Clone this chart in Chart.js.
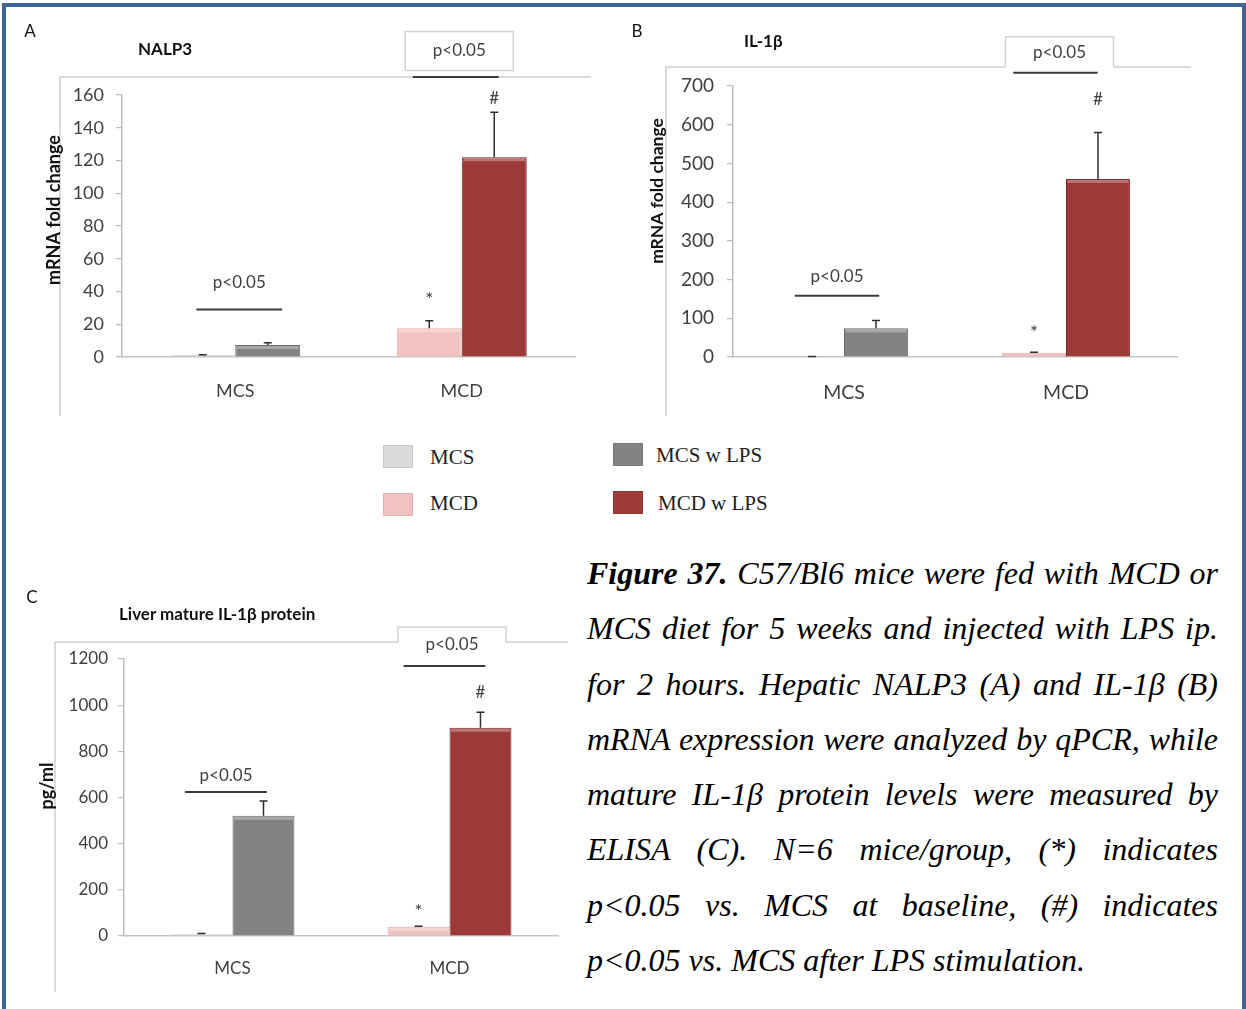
<!DOCTYPE html>
<html>
<head>
<meta charset="utf-8">
<script src="https://cdn.jsdelivr.net/npm/chart.js@4.4.1/dist/chart.umd.min.js"></script>
<style>
  html, body { margin: 0; padding: 0; background: #fff; }
  body { width: 1246px; height: 1009px; position: relative; overflow: hidden; }
  canvas, .txt, .frame, .sw { position: absolute; }
  .frame { border-top: 2px solid #dadada; border-left: 2px solid #dadada; box-sizing: border-box; }
  .txt { line-height: 1; white-space: nowrap; transform: translateY(-50%); }
  .letter { font: 17px Lato, sans-serif; color: #111; transform: translate(-50%, -50%); }
  .ptitle { font: bold 17px Lato, sans-serif; color: #111; }
  .leg { font: 21px "Liberation Serif", "Times New Roman", serif; color: #222; }
  .sw { width: 30px; height: 23px; box-sizing: border-box; border: 1px solid rgba(0,0,0,0.08); }
  #caption { position: absolute; left: 587px; top: 546px; width: 631px;
             font: italic 32px "Liberation Serif", "Times New Roman", serif; color: #000; }
  #caption div { height: 55.3px; line-height: 55.3px; text-align: justify; text-align-last: justify; }
  #caption div.last { text-align-last: left; }
  #border { position: absolute; left: 2px; top: 3px; width: 1244px; height: 1100px;
            border: 4px solid #3d6598; border-bottom: none; box-sizing: border-box; }
</style>
</head>
<body>

<div class="frame" style="left:59px;top:76px;width:532px;height:340px"></div>
<div class="frame" style="left:665px;top:66px;width:526px;height:350px"></div>
<div class="frame" style="left:54px;top:641px;width:514px;height:351px"></div>

<canvas id="chartA" width="620" height="420" style="left:0;top:0"></canvas>
<canvas id="chartB" width="626" height="420" style="left:620px;top:0"></canvas>
<canvas id="chartC" width="580" height="429" style="left:0;top:580px"></canvas>

<div class="txt letter" style="left:30px;top:30px">A</div>
<div class="txt ptitle" style="left:138px;top:48px">NALP3</div>
<div class="txt letter" style="left:637px;top:30px">B</div>
<div class="txt ptitle" style="left:744px;top:40px">IL-1β</div>
<div class="txt letter" style="left:32px;top:596px">C</div>
<div class="txt ptitle" style="left:119px;top:613px">Liver mature IL-1β protein</div>

<div id="legend"></div>

<div id="caption">
  <div><b>Figure 37.</b> C57/Bl6 mice were fed with MCD or</div>
  <div>MCS diet for 5 weeks and injected with LPS ip.</div>
  <div>for 2 hours. Hepatic NALP3 (A) and IL-1β (B)</div>
  <div>mRNA expression were analyzed by qPCR, while</div>
  <div>mature IL-1β protein levels were measured by</div>
  <div>ELISA (C). N=6 mice/group, (*) indicates</div>
  <div>p&lt;0.05 vs. MCS at baseline, (#) indicates</div>
  <div class="last">p&lt;0.05 vs. MCS after LPS stimulation.</div>
</div>

<div id="border"></div>

<script>
// ---- data ---------------------------------------------------------------
const categories = ['MCS', 'MCD'];
const seriesNames = ['MCS', 'MCS w LPS', 'MCD', 'MCD w LPS'];

// A: hepatic NALP3 mRNA, fold change (mean, SEM)
const nalp3Base = [1, 17.5];
const nalp3BaseErr = [0.4, 4.7];
const nalp3Lps = [7.3, 122];
const nalp3LpsErr = [1.4, 27.5];
const nalp3Ticks = [0, 20, 40, 60, 80, 100, 120, 140, 160];
const nalp3Brackets = [29, 171];      // height of the p<0.05 bars, per diet
const nalp3Marks = [36.6, 157.6];     // height of "*" (MCD) and "#" (MCD w LPS)

// B: hepatic IL-1β mRNA, fold change
const il1bBase = [1, 11];
const il1bBaseErr = [0.3, 1.5];
const il1bLps = [74, 460];
const il1bLpsErr = [20, 120];
const il1bTicks = [0, 100, 200, 300, 400, 500, 600, 700];
const il1bBrackets = [158, 734];
const il1bMarks = [70, 664];

// C: liver mature IL-1β protein, pg/ml
const protBase = [8, 40];
const protBaseErr = [3, 2];
const protLps = [521, 902];
const protLpsErr = [64, 67];
const protTicks = [0, 200, 400, 600, 800, 1000, 1200];
const protBrackets = [624, 1170];
const protMarks = [117, 1053];

// ---- colours ------------------------------------------------------------
const seriesFill = ['#d9d9d9', '#838383', '#f1c2c1', '#9c3a38'];
const seriesEdge = ['#c4c4c4', '#6a6a6a', '#e4abaa', '#7a2b29'];

// legend (HTML, between the panels)
const legendSpots = [[383, 445, 430, 457], [613, 443, 656, 455], [383, 493, 430, 503], [613, 491, 658, 503]];
const legendEl = document.getElementById('legend');
seriesNames.forEach((name, i) => {
  const [bx, by, tx, ty] = legendSpots[i];
  const sw = document.createElement('div');
  sw.className = 'sw';
  sw.style.cssText = `left:${bx}px;top:${by}px;background:${seriesFill[i]}`;
  legendEl.appendChild(sw);
  const t = document.createElement('div');
  t.className = 'txt leg';
  t.style.cssText = `left:${tx}px;top:${ty}px`;
  t.textContent = name;
  legendEl.appendChild(t);
});

// ---- plugins ------------------------------------------------------------
// Excel-like bevel highlight along the top of each bar
const barShading = {
  id: 'barShading',
  afterDatasetsDraw(chart) {
    const ctx = chart.ctx;
    chart.data.datasets.forEach((ds, i) => {
      chart.getDatasetMeta(i).data.forEach(bar => {
        const h = bar.base - bar.y;
        if (h < 4) return;
        const l = bar.x - bar.width / 2;
        ctx.save();
        ctx.fillStyle = 'rgba(255,255,255,0.30)';
        ctx.fillRect(l + 1.5, bar.y + 1, bar.width - 3, 3);
        ctx.restore();
      });
    });
  }
};

// one-sided (upper) error bars
const errorBars = {
  id: 'errorBars',
  afterDatasetsDraw(chart) {
    const ctx = chart.ctx, ys = chart.scales.y;
    chart.data.datasets.forEach((ds, i) => {
      chart.getDatasetMeta(i).data.forEach((bar, j) => {
        const v = ds.data[j], e = ds.errors[j];
        const y0 = ys.getPixelForValue(v), y1 = ys.getPixelForValue(v + e);
        ctx.save();
        ctx.strokeStyle = '#2e2e2e';
        ctx.lineWidth = 1.5;
        ctx.beginPath();
        ctx.moveTo(bar.x, y0); ctx.lineTo(bar.x, y1);
        ctx.moveTo(bar.x - 4, y1); ctx.lineTo(bar.x + 4, y1);
        ctx.stroke();
        ctx.restore();
      });
    });
  }
};

// p<0.05 brackets, the boxed label above the MCD pair, and the * / # marks
const significance = {
  id: 'significance',
  afterDraw(chart, args, o) {
    const ctx = chart.ctx, ys = chart.scales.y, xs = chart.scales.x;
    const barW = chart.getDatasetMeta(1).data[0].width;
    const half = 0.66 * barW;
    ctx.save();
    o.brackets.forEach((v, j) => {
      const cx = xs.getPixelForValue(j) + o.dx[j];
      const by = ys.getPixelForValue(v);
      if (j === 1) {
        const b = o.box;
        const bl = cx + b.dx - 54, br = cx + b.dx + 54;
        ctx.fillStyle = '#ffffff';
        ctx.fillRect(bl, by + b.top, br - bl, b.fillBottom - b.top);
        ctx.strokeStyle = '#d4d4d4';
        ctx.lineWidth = 1.5;
        ctx.beginPath();
        ctx.moveTo(bl, by + b.edgeBottom);
        ctx.lineTo(bl, by + b.top);
        ctx.lineTo(br, by + b.top);
        ctx.lineTo(br, by + b.edgeBottom);
        if (b.closed) ctx.lineTo(bl, by + b.edgeBottom);
        ctx.stroke();
      }
      ctx.strokeStyle = '#3a3a3a';
      ctx.lineWidth = 2;
      ctx.beginPath();
      ctx.moveTo(cx - half, by); ctx.lineTo(cx + half, by);
      ctx.stroke();
      ctx.fillStyle = '#404040';
      ctx.font = '17px Lato';
      ctx.textAlign = 'center';
      ctx.textBaseline = 'middle';
      const tx = j === 1 ? cx + o.box.dx : cx;
      ctx.fillText('p<0.05', tx, by + o.labelDy[j]);
    });
    const m0 = chart.getDatasetMeta(0).data[1], m1 = chart.getDatasetMeta(1).data[1];
    ctx.fillStyle = '#404040';
    ctx.textAlign = 'center';
    ctx.textBaseline = 'middle';
    ctx.font = '19px Lato';
    ctx.fillText('*', m0.x, ys.getPixelForValue(o.marks[0]) + 3);
    ctx.font = '17px Lato';
    ctx.fillText('#', m1.x, ys.getPixelForValue(o.marks[1]));
    ctx.restore();
  }
};

// rotated value-axis title
const axisTitle = {
  id: 'axisTitle',
  afterDraw(chart, args, o) {
    const ctx = chart.ctx, a = chart.chartArea;
    ctx.save();
    ctx.translate(o.x, (a.top + a.bottom) / 2 + o.dy);
    ctx.rotate(-Math.PI / 2);
    ctx.font = `bold ${o.size}px Lato`;
    ctx.fillStyle = '#111';
    ctx.textAlign = 'center';
    ctx.textBaseline = 'middle';
    ctx.fillText(o.text, 0, 0);
    ctx.restore();
  }
};

// ---- panel builder ------------------------------------------------------
function panel(id, p) {
  return new Chart(document.getElementById(id), {
    type: 'bar',
    data: {
      labels: categories,
      datasets: [
        { label: 'baseline', data: p.base, errors: p.baseErr,
          backgroundColor: [seriesFill[0], seriesFill[2]], borderColor: [seriesEdge[0], seriesEdge[2]], borderWidth: 1 },
        { label: 'LPS', data: p.lps, errors: p.lpsErr,
          backgroundColor: [seriesFill[1], seriesFill[3]], borderColor: [seriesEdge[1], seriesEdge[3]], borderWidth: 1 }
      ]
    },
    options: {
      responsive: false,
      animation: false,
      devicePixelRatio: 1,
      layout: { padding: p.pad },
      datasets: { bar: { categoryPercentage: p.group, barPercentage: 1 } },
      plugins: {
        legend: { display: false },
        tooltip: { enabled: false },
        significance: p.sig,
        axisTitle: p.title
      },
      scales: {
        x: {
          grid: { display: false },
          border: { display: true, color: '#c4c4c4', width: 1.5 },
          ticks: { color: '#404040', font: { family: 'Lato', size: p.labelSize }, padding: p.labelPad },
          afterFit: s => { s.height = 50; }
        },
        y: {
          min: p.ticks[0],
          max: p.ticks[p.ticks.length - 1],
          afterBuildTicks: s => { s.ticks = p.ticks.map(v => ({ value: v })); },
          grid: { drawOnChartArea: false, drawTicks: true, tickLength: 6, color: '#bdbdbd', lineWidth: 1.2 },
          border: { display: true, color: '#bdbdbd', width: 1.5 },
          ticks: { color: '#404040', font: { family: 'Lato', size: p.tickSize }, padding: p.tickPad,
                   callback: v => String(v) },
          afterFit: s => { s.width = p.axisW; }
        }
      }
    },
    plugins: [barShading, errorBars, significance, axisTitle]
  });
}

function build() {
  panel('chartA', {
    base: nalp3Base, baseErr: nalp3BaseErr, lps: nalp3Lps, lpsErr: nalp3LpsErr, ticks: nalp3Ticks,
    pad: { left: 0, right: 45, top: 95, bottom: 13 }, axisW: 122, group: 0.574,
    tickSize: 18, tickPad: 12, labelSize: 18, labelPad: 15,
    title: { text: 'mRNA fold change', x: 54, dy: -16, size: 18 },
    sig: { brackets: nalp3Brackets, marks: nalp3Marks, dx: [4, -6], labelDy: [-27, -26],
           box: { dx: 3.5, top: -45.5, edgeBottom: -6.5, fillBottom: -6.5, closed: true } }
  });
  panel('chartB', {
    base: il1bBase, baseErr: il1bBaseErr, lps: il1bLps, lpsErr: il1bLpsErr, ticks: il1bTicks,
    pad: { left: 0, right: 69, top: 86, bottom: 13 }, axisW: 113, group: 0.576,
    tickSize: 19, tickPad: 13, labelSize: 19.5, labelPad: 16,
    title: { text: 'mRNA fold change', x: 37, dy: -30.5, size: 17.5 },
    sig: { brackets: il1bBrackets, marks: il1bMarks, dx: [-7, -10.5], labelDy: [-19, -20],
           box: { dx: 4, top: -36, edgeBottom: -6, fillBottom: -3, closed: false } }
  });
  panel('chartC', {
    base: protBase, baseErr: protBaseErr, lps: protLps, lpsErr: protLpsErr, ticks: protTicks,
    pad: { left: 0, right: 22, top: 79, bottom: 23 }, axisW: 124, group: 0.571,
    tickSize: 17, tickPad: 10, labelSize: 17, labelPad: 14,
    title: { text: 'pg/ml', x: 47, dy: -11.5, size: 18 },
    sig: { brackets: protBrackets, marks: protMarks, dx: [-6.5, -5], labelDy: [-16, -21],
           box: { dx: 7.5, top: -39, edgeBottom: -24, fillBottom: -14, closed: false } }
  });
}

Promise.all([
  document.fonts.load('17px Lato'),
  document.fonts.load('bold 17px Lato')
]).then(build, build);
</script>
</body>
</html>
